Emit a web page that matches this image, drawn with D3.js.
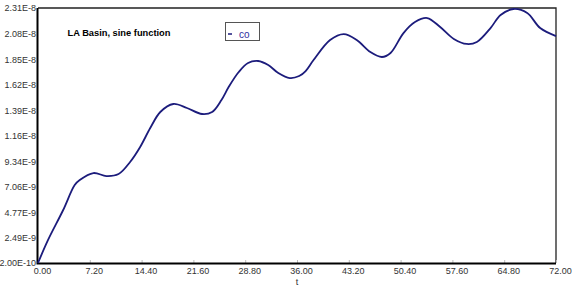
<!DOCTYPE html>
<html>
<head>
<meta charset="utf-8">
<script src="https://cdn.jsdelivr.net/npm/d3@7"></script>
<style>
  body { margin: 0; background: #fff; }
  svg { display: block; font-family: Arial, "Liberation Sans", sans-serif; }
</style>
</head>
<body>
<div id="chart"></div>
<script>
// data
var tValues = [0, 1.4, 3.5, 5.1, 5.8, 7.7, 9.5, 11.2, 12.8, 14.2, 15.6, 17.0, 18.8, 20.7, 22.8, 24.2,
    25.5, 26.5, 27.9, 29.2, 30.6, 32.0, 33.4, 35.0, 36.3, 37.2, 38.3, 40.6, 42.5, 44.3, 46.2, 47.8,
    49.0, 50.8, 52.4, 54.1, 55.9, 57.8, 59.6, 61.0, 62.9, 64.3, 66.1, 68.0, 69.8, 72.0];
var coValues = [2.0e-10, 2.27e-9, 4.96e-9, 7.20e-9, 7.65e-9, 8.28e-9, 8.01e-9, 8.19e-9, 9.27e-9, 1.062e-8,
    1.232e-8, 1.376e-8, 1.448e-8, 1.412e-8, 1.358e-8, 1.376e-8,
    1.484e-8, 1.600e-8, 1.735e-8, 1.816e-8, 1.834e-8, 1.798e-8, 1.726e-8, 1.681e-8, 1.699e-8, 1.744e-8,
    1.843e-8, 2.023e-8, 2.076e-8, 2.023e-8, 1.915e-8, 1.870e-8,
    1.906e-8, 2.085e-8, 2.184e-8, 2.220e-8, 2.139e-8, 2.032e-8, 1.987e-8, 2.005e-8, 2.130e-8, 2.247e-8,
    2.301e-8, 2.265e-8, 2.130e-8, 2.058e-8];
var yTickLabels = ["2.00E-10", "2.49E-9", "4.77E-9", "7.06E-9", "9.34E-9", "1.16E-8",
    "1.39E-8", "1.62E-8", "1.85E-8", "2.08E-8", "2.31E-8"];
var xTickValues = [0, 7.2, 14.4, 21.6, 28.8, 36, 43.2, 50.4, 57.6, 64.8, 72];
var seriesName = "co";
var chartTitle = "LA Basin, sine function";
var xTitle = "t";

var W = 575, H = 288;
var m = {left: 38, right: 19, top: 8, bottom: 25};
var lineColor = "#1c1c7c";
var labelFont = "Arial, 'Liberation Sans', sans-serif";

var svg = d3.select("#chart").append("svg").attr("width", W).attr("height", H);

var x = d3.scaleLinear().domain([0, 72]).range([m.left, W - m.right]);
var y = d3.scaleLinear().domain([2.0e-10, 2.31e-8]).range([H - m.bottom, m.top]);

// frame: thin top/right, heavy left/bottom
svg.append("path")
    .attr("d", "M" + x(0) + "," + y.range()[1] + "H" + x(72) + "V" + y.range()[0])
    .attr("fill", "none").attr("stroke", "#222").attr("stroke-width", 1.3);

// x ticks (small inward marks)
var xAxis = svg.append("g").attr("transform", "translate(0," + y.range()[0] + ")")
    .call(d3.axisBottom(x).tickValues(xTickValues).tickSize(-3).tickFormat(function(d) { return d.toFixed(2); }));
xAxis.select(".domain").remove();
xAxis.selectAll("line").attr("stroke", "#bbb");
xAxis.selectAll("text").attr("dx", 4).attr("dy", "1.0em").attr("y", 2)
    .attr("fill", "#333").style("font-size", "9px").style("font-family", labelFont);

// y ticks
var yAxis = svg.append("g").attr("transform", "translate(" + x(0) + ",0)")
    .call(d3.axisLeft(y).tickValues(yTickLabels.map(Number)).tickSize(0)
        .tickFormat(function(d, i) { return yTickLabels[i]; }));
yAxis.select(".domain").remove();
yAxis.selectAll("text").attr("x", -2).attr("fill", "#333")
    .style("font-size", "9px").style("font-family", labelFont);

// heavy axes
svg.append("path")
    .attr("d", "M" + (x(0) - 0.5) + "," + m.top + "V" + (y.range()[0] + 0.5) + "H" + x(72))
    .attr("fill", "none").attr("stroke", "#000").attr("stroke-width", 2);

// series line
var pts = tValues.map(function(t, i) { return [t, coValues[i]]; });
var line = d3.line().x(function(d) { return x(d[0]); }).y(function(d) { return y(d[1]); })
    .curve(d3.curveCatmullRom.alpha(0.5));
svg.append("path").datum(pts).attr("d", line)
    .attr("fill", "none").attr("stroke", lineColor).attr("stroke-width", 1.8)
    .attr("stroke-linejoin", "round");

// title
svg.append("text").attr("x", 67.5).attr("y", 35.5).text(chartTitle)
    .attr("font-weight", "bold").style("font-size", "9.3px").attr("fill", "#000");

// legend
var lg = svg.append("g").attr("transform", "translate(225,22)");
lg.append("rect").attr("x", 0.5).attr("y", 0.5).attr("width", 34).attr("height", 18)
    .attr("fill", "#fff").attr("stroke", "#555").attr("stroke-width", 1);
lg.append("line").attr("x1", 3).attr("x2", 7).attr("y1", 12).attr("y2", 12)
    .attr("stroke", lineColor).attr("stroke-width", 1.5);
lg.append("text").attr("x", 14).attr("y", 15.5).text(seriesName)
    .attr("fill", "#3030a0").style("font-size", "10px");

// x title
svg.append("text").attr("x", (x(0) + x(72)) / 2).attr("y", 285).attr("text-anchor", "middle")
    .text(xTitle).attr("fill", "#333").style("font-size", "9px");
</script>
</body>
</html>
